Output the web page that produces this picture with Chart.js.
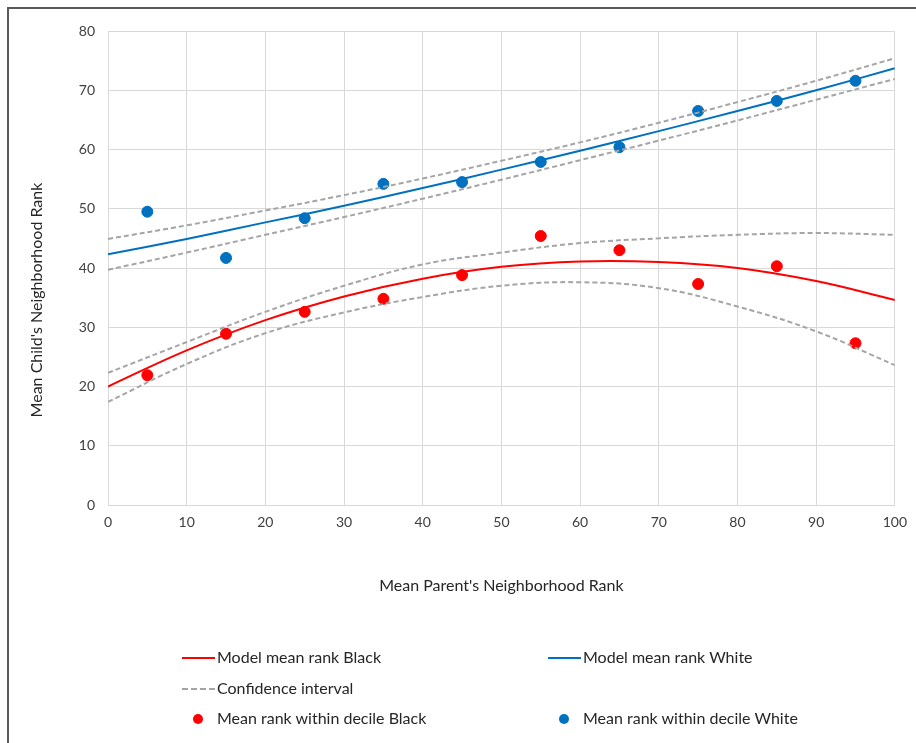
<!DOCTYPE html>
<html>
<head>
<meta charset="utf-8">
<script src="https://cdn.jsdelivr.net/npm/chart.js@4"></script>
<style>
    html, body { margin: 0; padding: 0; background: #fff; }
    #wrap { position: relative; width: 916px; height: 743px; overflow: hidden; font-family: Lato, "Open Sans", sans-serif; color: #262626; }
    #frame { position: absolute; left: 7px; top: 7px; right: -10px; bottom: -10px; border-top: 2px solid #5a5a5a; border-left: 2px solid #5a5a5a; }
    #yTitle { position: absolute; left: 35px; top: 300px; transform: translate(-50%, -50%) rotate(-90deg); white-space: nowrap; font-size: 16px; }
    .leg { position: absolute; font-size: 16px; white-space: nowrap; line-height: 20px; }
    .swatch { position: absolute; }
</style>
</head>
<body>
<div id="wrap">
    <canvas id="myChart" width="916" height="743"></canvas>
    <div id="frame"></div>
    <div id="yTitle">Mean Child's Neighborhood Rank</div>
    <div id="legenda"></div>
</div>
<script>
    // Valores
    var decis = [5, 15, 25, 35, 45, 55, 65, 75, 85, 95];
    var mediaNegros = [21.9, 28.9, 32.6, 34.8, 38.8, 45.4, 43.0, 37.3, 40.3, 27.3];
    var mediaBrancos = [49.5, 41.7, 48.4, 54.2, 54.5, 57.9, 60.4, 66.5, 68.2, 71.6];

    var xModelo = [0, 10, 20, 30, 40, 50, 60, 70, 80, 90, 100];
    var modeloNegros = [20.0, 26.1, 31.2, 35.2, 38.2, 40.2, 41.1, 41.0, 40.0, 37.8, 34.6];
    var icNegrosSup = [22.3, 27.5, 32.6, 37.0, 40.6, 42.6, 44.2, 45.0, 45.6, 45.9, 45.6];
    var icNegrosInf = [17.4, 23.8, 29.0, 32.5, 35.1, 37.0, 37.6, 36.6, 33.5, 29.3, 23.6];
    var modeloBrancos = [42.3, 44.9, 47.7, 50.5, 53.5, 56.6, 59.8, 63.1, 66.5, 70.0, 73.7];
    var icBrancosSup = [44.9, 47.2, 49.7, 52.3, 55.1, 58.1, 61.2, 64.5, 68.0, 71.6, 75.4];
    var icBrancosInf = [39.7, 42.6, 45.6, 48.6, 51.7, 54.9, 58.2, 61.5, 64.9, 68.4, 71.9];

    var vermelho = '#ff0000';
    var azul = '#0070c0';
    var cinza = '#a5a5a5';

    function pontos(xs, ys) {
        return xs.map((x, i) => ({ x: x, y: ys[i] }));
    }

    function linha(label, ys, cor, tracejado) {
        return {
            label: label,
            data: pontos(xModelo, ys),
            showLine: true,
            borderColor: cor,
            backgroundColor: cor,
            borderWidth: tracejado ? 2 : 2,
            borderDash: tracejado ? [5, 3] : [],
            pointRadius: 0,
            tension: 0.4
        };
    }

    var fonteTicks = { family: 'Lato, "Open Sans", sans-serif', size: 14 };

    const ctx = document.getElementById('myChart').getContext('2d');
    var myChart = new Chart(ctx, {
        type: 'scatter',
        data: {
            datasets: [
                linha('Confidence interval', icNegrosSup, cinza, true),
                linha('Confidence interval', icNegrosInf, cinza, true),
                linha('Confidence interval', icBrancosSup, cinza, true),
                linha('Confidence interval', icBrancosInf, cinza, true),
                linha('Model mean rank Black', modeloNegros, vermelho, false),
                linha('Model mean rank White', modeloBrancos, azul, false),
                {
                    label: 'Mean rank within decile Black',
                    data: pontos(decis, mediaNegros),
                    backgroundColor: vermelho,
                    borderColor: vermelho,
                    pointRadius: 5.5,
                    pointHoverRadius: 5.5
                },
                {
                    label: 'Mean rank within decile White',
                    data: pontos(decis, mediaBrancos),
                    backgroundColor: azul,
                    borderColor: azul,
                    pointRadius: 5.5,
                    pointHoverRadius: 5.5
                }
            ]
        },
        options: {
            responsive: false,
            animation: false,
            devicePixelRatio: 1,
            layout: { padding: { top: 31, right: 19, bottom: 148, left: 0 } },
            plugins: {
                legend: { display: false },
                tooltip: { enabled: false }
            },
            scales: {
                x: {
                    type: 'linear',
                    min: 0,
                    max: 100,
                    ticks: { stepSize: 10, padding: 9, color: '#404040', font: fonteTicks },
                    grid: { color: '#d9d9d9', drawTicks: false },
                    border: { color: '#d9d9d9' },
                    title: {
                        display: true,
                        text: "Mean Parent's Neighborhood Rank",
                        color: '#262626',
                        font: { family: 'Lato, "Open Sans", sans-serif', size: 16 },
                        padding: 0
                    },
                    afterFit: function (scale) { scale.height = 90; }
                },
                y: {
                    min: 0,
                    max: 80,
                    ticks: { stepSize: 10, padding: 13, color: '#404040', font: fonteTicks },
                    grid: { color: '#d9d9d9', drawTicks: false },
                    border: { color: '#d9d9d9' },
                    afterFit: function (scale) { scale.width = 108; }
                }
            }
        }
    });

    // Legenda em HTML, duas colunas como no original
    var itensLegenda = [
        { texto: 'Model mean rank Black', tipo: 'linha', cor: vermelho, x: 182, y: 658 },
        { texto: 'Model mean rank White', tipo: 'linha', cor: azul, x: 548, y: 658 },
        { texto: 'Confidence interval', tipo: 'tracejado', cor: cinza, x: 182, y: 689 },
        { texto: 'Mean rank within decile Black', tipo: 'ponto', cor: vermelho, x: 182, y: 719 },
        { texto: 'Mean rank within decile White', tipo: 'ponto', cor: azul, x: 548, y: 719 }
    ];

    var legenda = document.getElementById('legenda');
    itensLegenda.forEach(item => {
        var sw = document.createElement('div');
        sw.className = 'swatch';
        if (item.tipo === 'ponto') {
            sw.style.left = (item.x + 11) + 'px';
            sw.style.top = (item.y - 5) + 'px';
            sw.style.width = '10px';
            sw.style.height = '10px';
            sw.style.borderRadius = '50%';
            sw.style.background = item.cor;
        } else {
            sw.style.left = item.x + 'px';
            sw.style.top = (item.y - 1) + 'px';
            sw.style.width = '33px';
            sw.style.height = '0';
            sw.style.borderTop = '2px ' + (item.tipo === 'tracejado' ? 'dashed ' : 'solid ') + item.cor;
        }
        legenda.appendChild(sw);

        var txt = document.createElement('div');
        txt.className = 'leg';
        txt.textContent = item.texto;
        txt.style.left = (item.x + 35) + 'px';
        txt.style.top = (item.y - 11) + 'px';
        legenda.appendChild(txt);
    });
</script>
</body>
</html>
